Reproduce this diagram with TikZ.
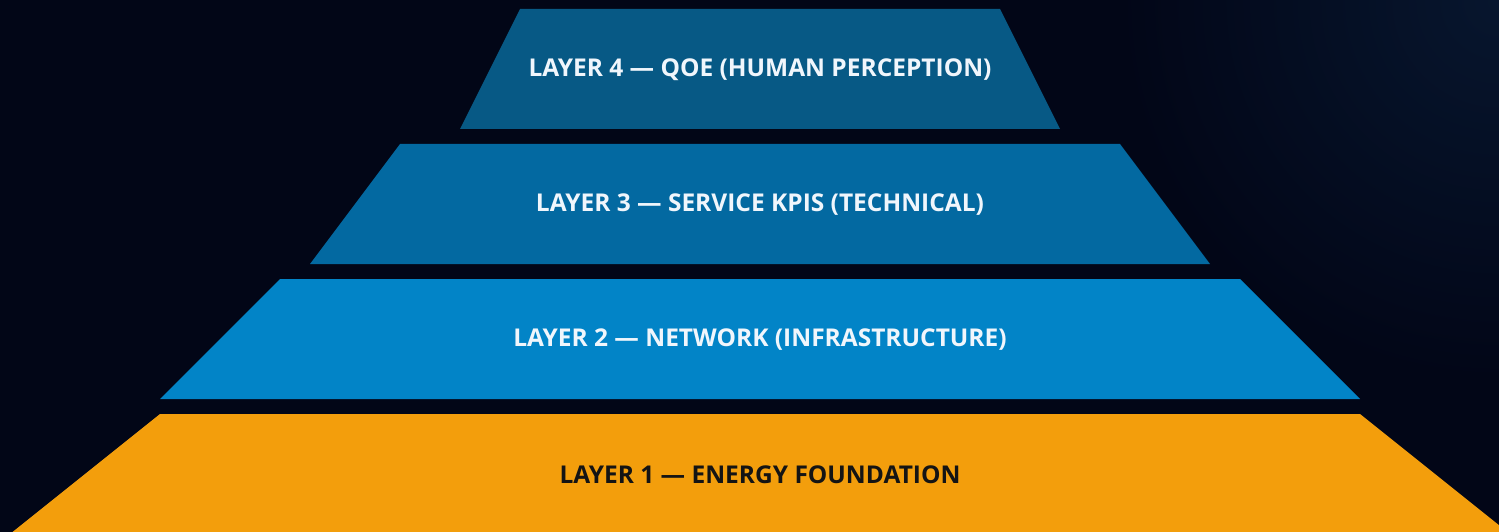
\documentclass[tikz,border=0pt]{standalone}
\usepackage{fontspec}
\setmainfont{Open Sans}
\usepackage{tikz}

\definecolor{bgnavy}{HTML}{020617}
\definecolor{glow}{HTML}{07162E}
\definecolor{qoeblue}{HTML}{075985}
\definecolor{kpiblue}{HTML}{0369A1}
\definecolor{netblue}{HTML}{0284C7}
\definecolor{energyamber}{HTML}{F39E0C}
\definecolor{lighttext}{HTML}{F0F6FC}
\definecolor{darktext}{HTML}{141414}

\tikzset{
  layerlabel/.style={font=\fontsize{24.5}{28}\selectfont\bfseries, text=lighttext},
}

\begin{document}
\begin{tikzpicture}[x=1pt, y=-1pt]
		\useasboundingbox (0,0) rectangle (1499,532);
		\clip (0,0) rectangle (1499,532);
		\fill[bgnavy] (0,0) rectangle (1499,532);
		\shade[inner color=glow, outer color=bgnavy] (1499,0) circle (380);
		% layer 4
		\fill[qoeblue] (520,9) -- (1000,9) -- (1060,129) -- (460,129) -- cycle;
		\node[layerlabel] (qoe) at (760,70) {LAYER 4 — QOE (HUMAN PERCEPTION)};
		% layer 3
		\fill[kpiblue] (400,144) -- (1120,144) -- (1210,264) -- (310,264) -- cycle;
		\node[layerlabel] (kpi) at (760,205) {LAYER 3 — SERVICE KPIS (TECHNICAL)};
		% layer 2
		\fill[netblue] (280,279) -- (1240,279) -- (1360,399) -- (160,399) -- cycle;
		\node[layerlabel] (net) at (760,340) {LAYER 2 — NETWORK (INFRASTRUCTURE)};
		% layer 1
		\fill[energyamber] (160,414) -- (1360,414) -- (1510,534) -- (10,534) -- cycle;
		\node[layerlabel, text=darktext] (energy) at (760,475) {LAYER 1 — ENERGY FOUNDATION};
	\end{tikzpicture}
\end{document}
